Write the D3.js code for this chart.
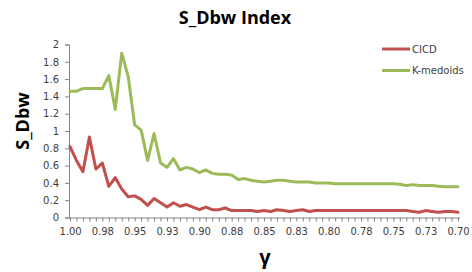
<!DOCTYPE html>
<html><head><meta charset="utf-8">
<script src="https://cdn.jsdelivr.net/npm/d3@7"></script>
<style>html,body{margin:0;padding:0;background:#fff;}</style>
</head><body>
<svg id="chart" width="472" height="272"></svg>
<script>
const gammas = [1.000,0.995,0.990,0.985,0.980,0.975,0.970,0.965,0.960,0.955,0.950,0.945,0.940,0.935,0.930,0.925,0.920,0.915,0.910,0.905,0.900,0.895,0.890,0.885,0.880,0.875,0.870,0.865,0.860,0.855,0.850,0.845,0.840,0.835,0.830,0.825,0.820,0.815,0.810,0.805,0.800,0.795,0.790,0.785,0.780,0.775,0.770,0.765,0.760,0.755,0.750,0.745,0.740,0.735,0.730,0.725,0.720,0.715,0.710,0.705,0.700];
const cicd = [0.82,0.66,0.53,0.93,0.56,0.63,0.36,0.46,0.33,0.24,0.25,0.21,0.14,0.22,0.17,0.12,0.17,0.13,0.15,0.12,0.09,0.12,0.09,0.09,0.11,0.08,0.08,0.08,0.08,0.07,0.08,0.07,0.09,0.08,0.07,0.08,0.09,0.07,0.08,0.08,0.08,0.08,0.08,0.08,0.08,0.08,0.08,0.08,0.08,0.08,0.08,0.08,0.08,0.07,0.06,0.08,0.07,0.06,0.07,0.07,0.06];
const kmedoids = [1.46,1.46,1.49,1.49,1.49,1.49,1.64,1.25,1.90,1.63,1.07,1.01,0.66,0.97,0.63,0.58,0.68,0.55,0.58,0.56,0.52,0.55,0.51,0.50,0.50,0.49,0.44,0.45,0.43,0.42,0.41,0.42,0.43,0.43,0.42,0.41,0.41,0.41,0.40,0.40,0.40,0.39,0.39,0.39,0.39,0.39,0.39,0.39,0.39,0.39,0.39,0.385,0.37,0.38,0.37,0.37,0.37,0.36,0.355,0.355,0.355];
const xTickLabels = ["1.00","0.98","0.95","0.93","0.90","0.88","0.85","0.83","0.80","0.78","0.75","0.73","0.70"];
const yTicks = [0,0.2,0.4,0.6,0.8,1,1.2,1.4,1.6,1.8,2];
const seriesNames = ["CICD","K-medoids"];
const seriesColors = ["#C0504D","#9BBB59"];

const svg = d3.select("#chart");
const x = d3.scalePoint().domain(d3.range(gammas.length)).range([70, 458]);
const y = d3.scaleLinear().domain([0, 2]).range([217.5, 44.5]);
const axisColor = "#868686";
const labelColor = "#404040";
const font = "'DejaVu Sans', Verdana, sans-serif";

// Y axis
const yAxis = svg.append("g").attr("transform", "translate(69,0)")
  .call(d3.axisLeft(y).tickValues(yTicks).tickSize(4).tickPadding(6)
    .tickFormat(d => d3.format("")(+d.toFixed(1))));
yAxis.select(".domain").attr("stroke", axisColor);
yAxis.selectAll(".tick line").attr("stroke", axisColor);
yAxis.selectAll(".tick text").attr("fill", labelColor).style("font", "10px " + font);

// X axis
const labelEvery = 5;
const xAxis = svg.append("g").attr("transform", "translate(0,217.5)")
  .call(d3.axisBottom(x).tickSize(4).tickPadding(6)
    .tickFormat(i => i % labelEvery === 0 ? xTickLabels[i / labelEvery] : ""));
xAxis.select(".domain").attr("stroke", axisColor).attr("d", "M69,0.5H460");
xAxis.selectAll(".tick line").attr("stroke", axisColor);
xAxis.selectAll(".tick text").attr("fill", labelColor).style("font", "10px " + font);

// Lines
const line = d3.line().x((d, i) => x(i)).y(d => y(d));
[cicd, kmedoids].forEach((s, k) => {
  svg.append("path").datum(s).attr("d", line)
    .attr("fill", "none").attr("stroke", seriesColors[k])
    .attr("stroke-width", 3).attr("stroke-linejoin", "round").attr("stroke-linecap", "round");
});

// Legend
seriesNames.forEach((n, k) => {
  const ly = 49 + k * 21.5;
  svg.append("line").attr("x1", 382).attr("x2", 410).attr("y1", ly).attr("y2", ly)
    .attr("stroke", seriesColors[k]).attr("stroke-width", 3);
  svg.append("text").attr("x", 412).attr("y", ly + 3.5).text(n)
    .attr("fill", labelColor).style("font", "10px " + font);
});

// Titles
svg.append("text").attr("x", 235).attr("y", 24).attr("text-anchor", "middle")
  .text("S_Dbw Index").style("font", "bold 18px 'Open Sans', " + font).attr("fill", "#000");
svg.append("text").attr("transform", "translate(29,121) rotate(-90)").attr("text-anchor", "middle")
  .text("S_Dbw").style("font", "bold 18px 'Open Sans', " + font).attr("fill", "#000");
svg.append("text").attr("x", 265).attr("y", 264).attr("text-anchor", "middle")
  .text("γ").style("font", "bold 20px 'Open Sans', " + font).attr("fill", "#000");
</script>
</body></html>
